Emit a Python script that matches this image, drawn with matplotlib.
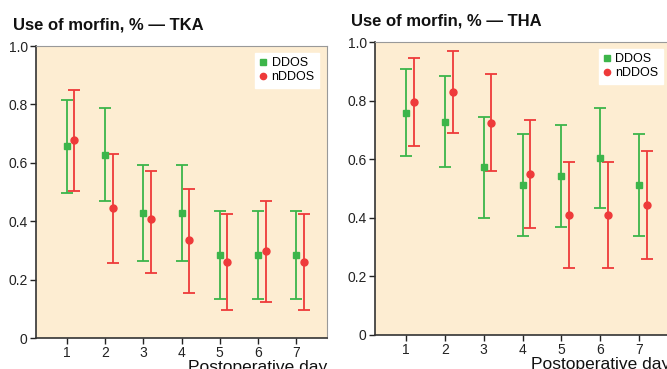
import matplotlib
matplotlib.use('Agg')
import matplotlib.pyplot as plt
import numpy as np

plt.rcParams['font.family'] = ['Liberation Sans', 'DejaVu Sans']

days = [1, 2, 3, 4, 5, 6, 7]

# TKA
tka_ddos = [0.657, 0.628, 0.429, 0.429, 0.285, 0.285, 0.285]
tka_ddos_lo = [0.498, 0.468, 0.265, 0.265, 0.135, 0.135, 0.135]
tka_ddos_hi = [0.814, 0.788, 0.592, 0.592, 0.435, 0.435, 0.435]
tka_nddos = [0.679, 0.444, 0.408, 0.334, 0.259, 0.297, 0.259]
tka_nddos_lo = [0.505, 0.256, 0.221, 0.155, 0.095, 0.124, 0.095]
tka_nddos_hi = [0.850, 0.631, 0.572, 0.511, 0.425, 0.468, 0.425]

# THA
tha_ddos = [0.758, 0.727, 0.574, 0.511, 0.543, 0.605, 0.511]
tha_ddos_lo = [0.610, 0.574, 0.401, 0.339, 0.370, 0.435, 0.339]
tha_ddos_hi = [0.909, 0.883, 0.745, 0.686, 0.716, 0.775, 0.686]
tha_nddos = [0.795, 0.831, 0.725, 0.550, 0.408, 0.408, 0.444]
tha_nddos_lo = [0.645, 0.691, 0.559, 0.365, 0.227, 0.227, 0.261]
tha_nddos_hi = [0.947, 0.970, 0.891, 0.735, 0.592, 0.592, 0.628]

green = '#3cb54a'
red = '#ee3a3a'
bg = '#fdedd2'


def panel(ax, title, d, dlo, dhi, n, nlo, nhi, leg_x, leg_y):
    x = np.array(days)
    d, n = np.array(d), np.array(n)
    ax.set_facecolor(bg)
    ax.errorbar(x, d, yerr=[d - np.array(dlo), np.array(dhi) - d], fmt='s',
                color=green, ms=5, capsize=4.5, elinewidth=1.3, capthick=1.3,
                label='DDOS')
    ax.errorbar(x + 0.2, n, yerr=[n - np.array(nlo), np.array(nhi) - n], fmt='o',
                color=red, ms=5, capsize=4.5, elinewidth=1.3, capthick=1.3,
                label='nDDOS')
    ax.set_xlim(0.2, 7.8)
    ax.set_ylim(0, 1.0)
    ax.set_xticks(days)
    ax.set_yticks([0, 0.2, 0.4, 0.6, 0.8, 1.0])
    ax.set_yticklabels(['0', '0.2', '0.4', '0.6', '0.8', '1.0'])
    ax.tick_params(labelsize=10, length=4, width=1, colors='#222222', pad=2)
    for s in ['top', 'right']:
        ax.spines[s].set_color('#999999')
    for s in ['left', 'bottom']:
        ax.spines[s].set_color('#333333')
        ax.spines[s].set_linewidth(1.2)
    h, l = ax.get_legend_handles_labels()
    h = [hh[0] for hh in h]
    leg = ax.legend(h, l, loc='upper right', bbox_to_anchor=(leg_x, leg_y),
                    borderaxespad=0, frameon=True, fancybox=False, fontsize=9,
                    handlelength=0.6, handletextpad=0.4, borderpad=0.35,
                    labelspacing=0.15, markerscale=0.9)
    leg.get_frame().set_edgecolor('white')
    leg.get_frame().set_facecolor('white')
    leg.get_frame().set_alpha(1)
    ax.set_title(title, loc='left', fontsize=12, fontweight='bold',
                 x=-0.08, pad=12, color='#111111')
    ax.set_xlabel('Postoperative day', fontsize=12.5, loc='right',
                  labelpad=0, color='#111111')


fig = plt.figure(figsize=(6.67, 3.69), dpi=100)
ax1 = fig.add_axes([36 / 667, 1 - 338 / 369, 291 / 667, 292 / 369])
ax2 = fig.add_axes([375 / 667, 1 - 335 / 369, 295 / 667, 293 / 369])
panel(ax1, 'Use of morfin, % \u2014 TKA', tka_ddos, tka_ddos_lo, tka_ddos_hi,
      tka_nddos, tka_nddos_lo, tka_nddos_hi, 0.973, 0.976)
panel(ax2, 'Use of morfin, % \u2014 THA', tha_ddos, tha_ddos_lo, tha_ddos_hi,
      tha_nddos, tha_nddos_lo, tha_nddos_hi, 0.976, 0.976)

fig.savefig('out.png', dpi=100)
